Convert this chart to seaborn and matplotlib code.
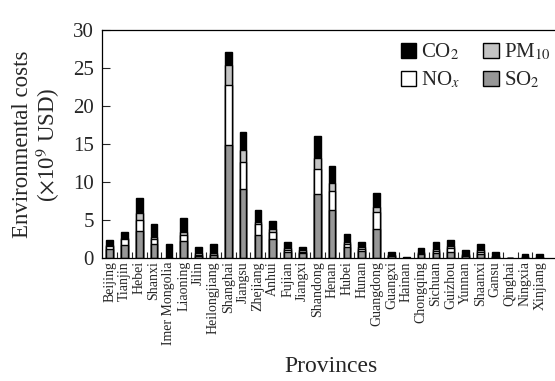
import matplotlib
matplotlib.use("Agg")
import matplotlib.pyplot as plt
import seaborn as sns
import numpy as np
import pandas as pd
from matplotlib.patches import Patch

sns.set_theme(style="ticks")
plt.rcParams["font.family"] = ["Liberation Serif", "DejaVu Serif"]
plt.rcParams["mathtext.fontset"] = "stix"

provinces = ["Beijing", "Tianjin", "Hebei", "Shanxi", "Imer Mongolia", "Liaoning",
             "Jilin", "Heilongjiang", "Shanghai", "Jiangsu", "Zhejiang", "Anhui",
             "Fujian", "Jiangxi", "Shandong", "Henan", "Hubei", "Hunan", "Guangdong",
             "Guangxi", "Hainan", "Chongqing", "Sichuan", "Guizhou", "Yunnan",
             "Shaanxi", "Gansu", "Qinghai", "Ningxia", "Xinjiang"]

so2 = [1.2, 1.8, 3.6, 1.85, 0.05, 2.3, 0.35, 0.4, 14.9, 9.1, 3.1, 2.55, 0.8, 0.75,
       8.4, 6.3, 1.45, 0.9, 3.85, 0.3, 0.03, 0.55, 0.65, 0.87, 0.3, 0.56, 0.15,
       0.03, 0.15, 0.1]
nox = [0.4, 0.7, 1.4, 0.65, 0.05, 0.75, 0.15, 0.1, 7.9, 3.5, 1.4, 0.95, 0.3, 0.1,
       3.3, 2.6, 0.45, 0.3, 2.2, 0.1, 0.02, 0.1, 0.35, 0.43, 0.1, 0.27, 0.1,
       0.01, 0.05, 0.05]
pm10 = [0.2, 0.2, 0.9, 0.25, 0.05, 0.45, 0.25, 0.2, 2.6, 1.7, 0.3, 0.3, 0.3, 0.2,
        1.5, 1.0, 0.3, 0.3, 0.65, 0.1, 0.02, 0.2, 0.2, 0.3, 0.15, 0.27, 0.1,
        0.01, 0.05, 0.05]
co2 = [0.6, 0.7, 2.0, 1.75, 1.75, 1.75, 0.8, 1.15, 1.7, 2.3, 1.5, 1.15, 0.7, 0.5,
       2.9, 2.2, 0.95, 0.6, 1.95, 0.3, 0.15, 0.45, 0.9, 0.8, 0.5, 0.8, 0.45,
       0.03, 0.28, 0.33]

# Stacking order bottom to top: SO2, NOx, PM10, CO2
series = [("SO$_2$", so2, "#979797"),
          ("NO$_x$", nox, "#ffffff"),
          ("PM$_{10}$", pm10, "#c4c4c4"),
          ("CO$_2$", co2, "#000000")]

fig = plt.figure(figsize=(5.55, 3.81), dpi=100)
ax = fig.add_axes([0.184, 0.322, 0.826, 0.599])

# Cumulative totals, drawn from the tallest layer down so each segment shows
cum = np.cumsum(np.array([s[1] for s in series]), axis=0)
for i in range(len(series) - 1, -1, -1):
    name, vals, color = series[i]
    df = pd.DataFrame({"province": provinces, "value": cum[i]})
    sns.barplot(data=df, x="province", y="value", color=color, width=0.45,
                edgecolor="black", linewidth=1.0, saturation=1, ax=ax)

ax.set_xlim(-0.5, 30.4)
ax.set_ylim(0, 30)
ax.set_yticks([0, 5, 10, 15, 20, 25, 30])
ax.tick_params(axis="y", direction="in", length=6, width=0.8, labelsize=15, pad=6)
ax.set_xticks(range(len(provinces)))
ax.set_xticklabels(provinces, rotation=90, fontsize=10)
ax.tick_params(axis="x", which="major", length=0, pad=2)
ax.set_xticks(np.arange(len(provinces) - 1) + 0.5, minor=True)
ax.tick_params(axis="x", which="minor", direction="in", length=4, width=0.8)

for side in ["left", "bottom", "top", "right"]:
    ax.spines[side].set_linewidth(0.9)
    ax.spines[side].set_color("black")

ax.set_xlabel("Provinces", fontsize=17, labelpad=8)
ax.set_ylabel("Environmental costs\n($\\times$10$^9$ USD)", fontsize=16.5, labelpad=8,
              linespacing=1.05)

handles = [Patch(facecolor="#000000", edgecolor="black", label="CO$_2$"),
           Patch(facecolor="#ffffff", edgecolor="black", label="NO$_x$"),
           Patch(facecolor="#c4c4c4", edgecolor="black", label="PM$_{10}$"),
           Patch(facecolor="#979797", edgecolor="black", label="SO$_2$")]
ax.legend(handles=handles, ncol=2, frameon=False, fontsize=15,
          loc="upper right", bbox_to_anchor=(1.02, 1.03),
          handlelength=0.75, handleheight=0.75, handletextpad=0.25,
          columnspacing=1.1, labelspacing=0.35)

fig.savefig("out.png", dpi=100)
